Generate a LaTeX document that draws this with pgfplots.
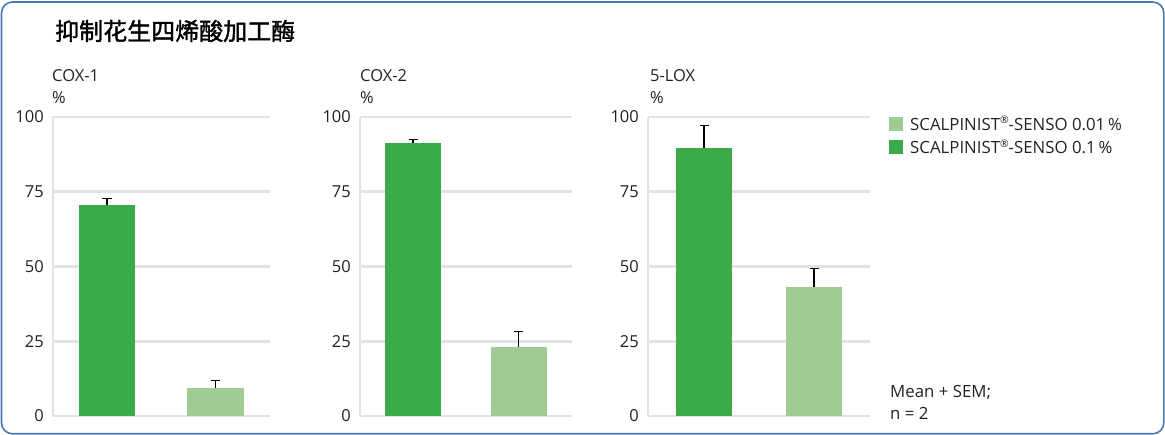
\documentclass[border=0pt]{standalone}
\usepackage{fontspec}
\setmainfont{Open Sans}
\newfontfamily\cjk[FakeBold=1.6]{Noto Sans CJK SC}
\usepackage{pgfplots}
\pgfplotsset{compat=1.18}
\definecolor{dgreen}{HTML}{3BAA4A}
\definecolor{lgreen}{HTML}{9ECC92}
\definecolor{gridgray}{HTML}{E2E2E2}
\definecolor{frameblue}{HTML}{4A7AB6}
\definecolor{txt}{HTML}{222222}
\newcommand{\lab}{\fontsize{16.5bp}{20bp}\selectfont}
\newcommand{\lgd}{\fontsize{16.8bp}{20bp}\selectfont}
\newcommand{\reg}{\raisebox{0.38em}{\scalebox{0.62}{®}}}
\pgfplotsset{
 panel/.style={
  x=1bp, y=2.99bp, xmin=0, ymin=0, ymax=100,
  anchor=south west, axis x line=none, axis y line=left,
  axis line style={-, draw=gridgray, line width=2.7bp},
  ytick={0,25,50,75,100}, ymajorgrids,
  grid style={draw=gridgray, line width=2.7bp},
  major tick length=0pt,
  yticklabel style={font=\lab, text=txt, anchor=east, inner sep=0pt, xshift=-9bp},
  /pgf/number format/assume math mode=true,
  ybar, bar width=56bp, clip=false,
 },
 barstyle/.style={fill=#1, draw=none, bar shift=0pt,
  legend image code/.code={\fill[fill=#1] (0bp,-7bp) rectangle (14bp,7bp);},
  error bars/.cd, y dir=plus, y explicit,
  error bar style={draw=black, line width=1.2bp},
  error mark options={draw=black, rotate=90, mark size=4.5bp, line width=1.2bp}},
}
\begin{document}
\begin{tikzpicture}
\useasboundingbox (0,0) rectangle (1165bp,435bp);
\draw[frameblue, line width=1.6bp, rounded corners=11bp] (1.5bp,1.2bp) rectangle (1163.8bp,433bp);
\node[anchor=west, inner sep=0pt, font=\cjk\fontsize{24bp}{28bp}\selectfont, text=black] at (55bp,404bp) {抑制花生四烯酸加工酶};

% Panel 1
\begin{axis}[panel, at={(53bp,19bp)}, xmax=217]
\addplot[barstyle=lgreen] coordinates {(162.5,9.4) +- (0,2.6)};
\addplot[barstyle=dgreen] coordinates {(54,70.6) +- (0,2.1)};
\end{axis}
\node[anchor=base west, inner sep=0pt, font=\lab, text=txt] at (52bp,353bp) {COX-1};
\node[anchor=base west, inner sep=0pt, font=\lab, text=txt] at (52bp,331bp) {\%};

% Panel 2
\begin{axis}[panel, at={(360bp,19bp)}, xmax=212]
\addplot[barstyle=lgreen] coordinates {(158.5,23.2) +- (0,5.0)};
\addplot[barstyle=dgreen] coordinates {(53,91.4) +- (0,1.0)};
\end{axis}
\node[anchor=base west, inner sep=0pt, font=\lab, text=txt] at (360bp,353bp) {COX-2};
\node[anchor=base west, inner sep=0pt, font=\lab, text=txt] at (360bp,331bp) {\%};

% Panel 3
\begin{axis}[panel, at={(648bp,19bp)}, xmax=222,
  legend style={draw=none, fill=none, at={(1.0856,1.003)}, anchor=north west,
    inner sep=0pt, font=\lgd, text=txt, nodes={inner sep=0pt}, column sep=7bp, row sep=8bp},
  legend cell align=left]
\addplot[barstyle=lgreen] coordinates {(166,43.0) +- (0,6.2)};
\addlegendentry{SCALPINIST\reg-SENSO 0.01\,\%}
\addplot[barstyle=dgreen] coordinates {(56,89.7) +- (0,7.5)};
\addlegendentry{SCALPINIST\reg-SENSO 0.1\,\%}
\end{axis}
\node[anchor=base west, inner sep=0pt, font=\lab, text=txt] at (650bp,353bp) {5-LOX};
\node[anchor=base west, inner sep=0pt, font=\lab, text=txt] at (650bp,331bp) {\%};

\node[anchor=base west, inner sep=0pt, font=\lgd, text=txt] at (890bp,38bp) {Mean + SEM;};
\node[anchor=base west, inner sep=0pt, font=\lgd, text=txt] at (890bp,16bp) {n = 2};
\end{tikzpicture}
\end{document}
